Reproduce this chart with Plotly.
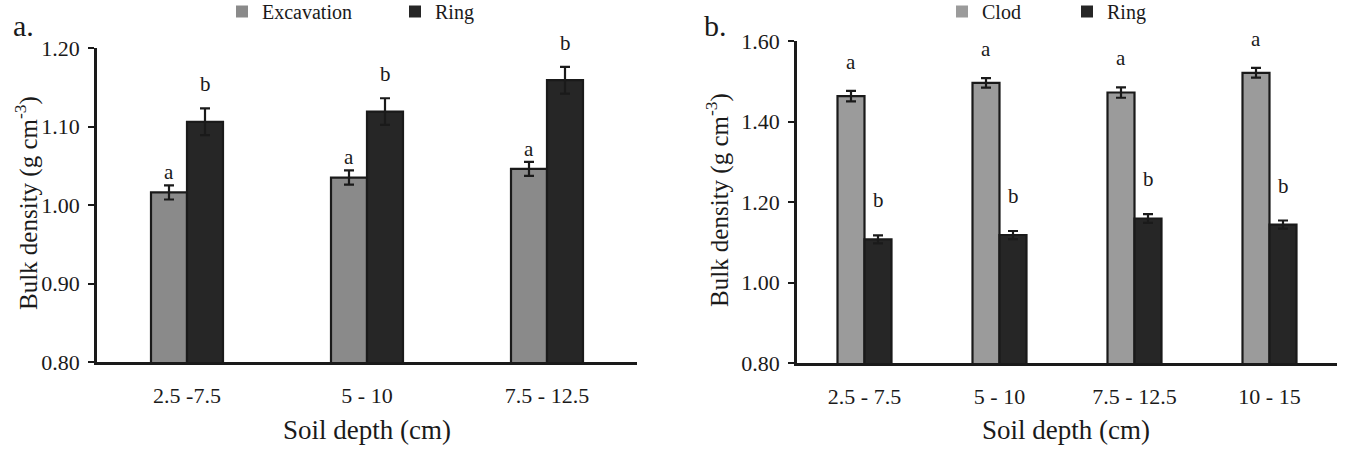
import plotly.graph_objects as go

# ---------------- data ----------------
cats_a = ["2.5 -7.5", "5 - 10", "7.5 - 12.5"]
excavation = [1.016, 1.035, 1.046]
excavation_err = [0.009, 0.009, 0.009]
ring_a = [1.106, 1.119, 1.159]
ring_a_err = [0.017, 0.017, 0.017]
letters_exc = ["a", "a", "a"]
letters_ring_a = ["b", "b", "b"]

cats_b = ["2.5 - 7.5", "5 - 10", "7.5 - 12.5", "10 - 15"]
clod = [1.463, 1.496, 1.472, 1.521]
clod_err = [0.013, 0.012, 0.013, 0.012]
ring_b = [1.107, 1.118, 1.159, 1.144]
ring_b_err = [0.010, 0.010, 0.011, 0.010]
letters_clod = ["a", "a", "a", "a"]
letters_ring_b = ["b", "b", "b", "b"]

yticks_a = [0.80, 0.90, 1.00, 1.10, 1.20]
yticks_b = [0.80, 1.00, 1.20, 1.40, 1.60]

# ---------------- style ----------------
W, H = 1365, 452
FONT = "Liberation Serif, Times New Roman, serif"
C_EXC = "#8a8a8a"
C_CLOD = "#9b9b9b"
C_RING = "#262626"
C_LINE = "#1a1a1a"
C_TEXT = "#1a1a1a"

def px_x(p):
    return p / W

def px_y(p):
    return 1 - p / H

fig = go.Figure()

def add_bars(cats, vals, errs, color, name, xa, ya, legend):
    fig.add_trace(go.Bar(
        x=cats, y=vals, name=name, xaxis=xa, yaxis=ya,
        marker=dict(color=color, line=dict(color=C_LINE, width=2.2)),
        error_y=dict(type="data", array=errs, color=C_LINE, thickness=2.2, width=5),
        showlegend=False, legend=legend, offsetgroup=name + xa,
    ))
    # legend proxy without outline
    fig.add_trace(go.Bar(
        x=[None], y=[None], name=name, xaxis=xa, yaxis=ya,
        marker=dict(color=color, line=dict(width=0)),
        showlegend=True, legend=legend,
    ))

add_bars(cats_a, excavation, excavation_err, C_EXC, "Excavation", "x", "y", "legend")
add_bars(cats_a, ring_a, ring_a_err, C_RING, "Ring", "x", "y", "legend")
add_bars(cats_b, clod, clod_err, C_CLOD, "Clod", "x2", "y2", "legend2")
add_bars(cats_b, ring_b, ring_b_err, C_RING, "Ring", "x2", "y2", "legend2")

annotations = []

def add_letters(letters, vals, errs, offset, xref, yref, yshift):
    for i, (t, v, e) in enumerate(zip(letters, vals, errs)):
        annotations.append(dict(
            x=i + offset, y=v + e, xref=xref, yref=yref, text=t,
            showarrow=False, yanchor="bottom", yshift=yshift,
            font=dict(family=FONT, size=21, color=C_TEXT),
        ))

add_letters(letters_exc, excavation, excavation_err, -0.1, "x", "y", -1)
add_letters(letters_ring_a, ring_a, ring_a_err, 0.1, "x", "y", 10)
add_letters(letters_clod, clod, clod_err, -0.1, "x2", "y2", 15)
add_letters(letters_ring_b, ring_b, ring_b_err, 0.1, "x2", "y2", 21)

# panel letters
annotations.append(dict(x=px_x(11), y=px_y(25), xref="paper", yref="paper", text="a.",
                        showarrow=False, xanchor="left", yanchor="middle",
                        font=dict(family=FONT, size=30, color=C_TEXT)))
annotations.append(dict(x=px_x(702), y=px_y(25), xref="paper", yref="paper", text="b.",
                        showarrow=False, xanchor="left", yanchor="middle",
                        font=dict(family=FONT, size=30, color=C_TEXT)))

# axis titles
ytitle = "Bulk density (g cm<sup>-3</sup>)"
annotations.append(dict(x=px_x(26), y=px_y(203), xref="paper", yref="paper", text=ytitle,
                        showarrow=False, textangle=-90, xanchor="center", yanchor="middle",
                        font=dict(family=FONT, size=25, color=C_TEXT)))
annotations.append(dict(x=px_x(717), y=px_y(200), xref="paper", yref="paper", text=ytitle,
                        showarrow=False, textangle=-90, xanchor="center", yanchor="middle",
                        font=dict(family=FONT, size=25, color=C_TEXT)))
annotations.append(dict(x=px_x(367), y=px_y(430), xref="paper", yref="paper", text="Soil depth (cm)",
                        showarrow=False, xanchor="center", yanchor="middle",
                        font=dict(family=FONT, size=27, color=C_TEXT)))
annotations.append(dict(x=px_x(1066), y=px_y(430), xref="paper", yref="paper", text="Soil depth (cm)",
                        showarrow=False, xanchor="center", yanchor="middle",
                        font=dict(family=FONT, size=27, color=C_TEXT)))

xcommon = dict(showline=True, linecolor=C_LINE, linewidth=3, ticks="", showgrid=False,
               zeroline=False, ticklabelstandoff=12, automargin=False,
               tickfont=dict(family=FONT, size=22, color=C_TEXT))
ycommon = dict(showline=True, linecolor=C_LINE, linewidth=2.5, ticks="outside", ticklen=6,
               tickwidth=2, tickcolor=C_LINE, showgrid=False, zeroline=False,
               tickformat=".2f", ticklabelstandoff=4, automargin=False,
               tickfont=dict(family=FONT, size=22, color=C_TEXT))

fig.update_layout(
    width=W, height=H, autosize=False,
    margin=dict(l=0, r=0, t=0, b=0, pad=0, autoexpand=False),
    paper_bgcolor="white", plot_bgcolor="white",
    barmode="group", bargap=0.6, bargroupgap=0,
    font=dict(family=FONT, color=C_TEXT),
    xaxis=dict(domain=[px_x(97), px_x(637)], anchor="y", range=[-0.5, 2.5], **xcommon),
    yaxis=dict(domain=[px_y(362), px_y(48)], anchor="x", range=[0.8, 1.2],
               tickvals=yticks_a, **ycommon),
    xaxis2=dict(domain=[px_x(797), px_x(1337)], anchor="y2", range=[-0.5, 3.5], **xcommon),
    yaxis2=dict(domain=[px_y(363), px_y(41)], anchor="x2", range=[0.8, 1.6],
                tickvals=yticks_b, **ycommon),
    legend=dict(orientation="h", x=px_x(222), y=1 + 8 / H, xanchor="left", yanchor="top",
                font=dict(family=FONT, size=20, color=C_TEXT), entrywidth=128,
                bgcolor="rgba(0,0,0,0)", tracegroupgap=0),
    legend2=dict(orientation="h", x=px_x(942), y=1 + 8 / H, xanchor="left", yanchor="top",
                 font=dict(family=FONT, size=20, color=C_TEXT), entrywidth=80,
                 bgcolor="rgba(0,0,0,0)", tracegroupgap=0),
    annotations=annotations,
)

fig.write_html("out.html")
